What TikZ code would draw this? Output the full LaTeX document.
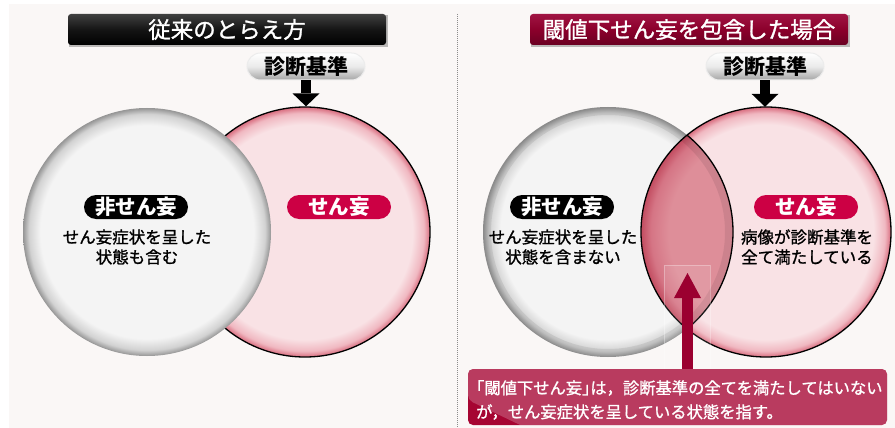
\documentclass[tikz,border=0pt]{standalone}
\usepackage{fontspec}
\newfontfamily\jp{Noto Sans CJK JP}
\newfontfamily\jpm[FakeBold=1.2]{Noto Sans CJK JP}
\usetikzlibrary{arrows.meta,shadings}
\definecolor{bgc}{HTML}{FAF7F6}
\definecolor{grayc}{HTML}{F4F4F4}
\definecolor{graym}{HTML}{D2D2D2}
\definecolor{grayr}{HTML}{959595}
\definecolor{pinkc}{HTML}{F9E2E5}
\definecolor{pinkm}{HTML}{F0B8C1}
\definecolor{pinkr}{HTML}{D86C7E}
\definecolor{lensc}{HTML}{DE8E99}
\definecolor{lensm}{HTML}{D57585}
\definecolor{lensr}{HTML}{C24C60}
\definecolor{crim}{HTML}{CC0044}
\definecolor{darkcrim}{HTML}{9B0030}
\definecolor{boxcrim}{HTML}{A60532}
\definecolor{ttop}{HTML}{A01443}
\definecolor{tbot}{HTML}{6A0022}
\pgfdeclareradialshading{graysph}{\pgfpoint{0bp}{0bp}}{color(0bp)=(grayc); color(21.5bp)=(grayc); color(23.8bp)=(graym); color(25bp)=(grayr); color(50bp)=(grayr)}
\pgfdeclareradialshading{pinksph}{\pgfpoint{0bp}{0bp}}{color(0bp)=(pinkc); color(21.5bp)=(pinkc); color(23.8bp)=(pinkm); color(25bp)=(pinkr); color(50bp)=(pinkr)}
\pgfdeclareradialshading{lenssph}{\pgfpoint{0bp}{0bp}}{color(0bp)=(lensc); color(19.5bp)=(lensc); color(23bp)=(lensm); color(25bp)=(lensr); color(50bp)=(lensr)}
\newcommand{\hwl}[1]{\makebox[0.5em][l]{#1}}
\newcommand{\hwr}[1]{\makebox[0.5em][r]{#1}}
\tikzset{
  circ/.style={circle, inner sep=0pt, shade},
  titlebox/.style={rounded corners=3pt, minimum width=318pt, minimum height=31pt, inner sep=0pt,
    text=white, font=\jpm\fontsize{22.5}{26}\selectfont},
  critbox/.style={rounded corners=13.5pt, minimum width=118pt, minimum height=27pt, inner sep=0pt,
    draw=white!85!gray, line width=1pt, top color=white, bottom color=black!35, middle color=black!8,
    font=\jp\bfseries\fontsize{21}{24}\selectfont, text=black},
  lbl/.style={rounded corners=12pt, minimum width=104pt, minimum height=24pt, inner sep=0pt,
    text=white, font=\jp\bfseries\fontsize{20.5}{22}\selectfont},
  body/.style={align=center, inner sep=0pt, font=\jpm\fontsize{16.5}{20}\selectfont, text=black},
  downarr/.style={line width=10pt, -{Triangle[width=27pt, length=13pt, line width=0pt]}},
  uparr/.style={draw=darkcrim, line width=11pt, -{Triangle[width=27pt, length=25pt, line width=0pt]}},
  divider/.style={draw=black!45, line width=0.8pt, dash pattern=on 1pt off 1pt},
}
\begin{document}
\begin{tikzpicture}[x=1pt, y=-1pt]
\useasboundingbox (0,0) rectangle (895,428);
\fill[white] (0,0) rectangle (895,428);
\fill[bgc] (9,4) rectangle (895,428);
\draw[divider] (457,14) -- (457,428);

% ---------- left panel ----------
\fill[black, opacity=0.25] (69,15.5) rectangle (388,47);
\node[titlebox, top color=black!75, bottom color=black, middle color=black!92] (ltitle) at (227,29.5) {従来のとらえ方};
\node[critbox] (lcrit) at (306,66.5) {診断基準};
\node[circ, shading=pinksph, minimum size=250pt, draw=black, line width=1.3pt] (lp) at (305,232) {};
\node[circ, shading=graysph, minimum size=248pt] (lg) at (147,232) {};
\draw[downarr] (lcrit.south) -- (lcrit.south |- lp.north);
\node[lbl, fill=black] (lnon) at (136,207) {非せん妄};
\node[body] (lnont) at (137,247) {せん妄症状を呈した\\状態も含む};
\node[lbl, fill=crim] (ldel) at (339,207) {せん妄};

% ---------- right panel ----------
\fill[black, opacity=0.25] (531,15.5) rectangle (850,47);
\node[titlebox, top color=ttop, bottom color=tbot, middle color=darkcrim!90!black] (rtitle) at (689,29.5) {閾値下せん妄を包含した場合};
\node[critbox] (rcrit) at (765,66.5) {診断基準};
\node[circ, shading=pinksph, minimum size=250pt] (rp) at (766,232) {};
\node[circ, shading=graysph, minimum size=250pt] (rg) at (608,232) {};
\begin{scope}
  \clip (rg.center) circle[radius=125];
  \shade[shading=lenssph] (rp.center) circle[radius=125];
  \draw[black, opacity=0.08, line width=8pt] (rg.center) circle[radius=121];
\end{scope}
\draw[black, line width=1.3pt] (rp.center) circle[radius=125];
\begin{scope}
  \clip (rp.center) circle[radius=125];
  \draw[black, line width=1.3pt] (rg.center) circle[radius=125];
\end{scope}
\draw[downarr] (rcrit.south) -- (rcrit.south |- rp.north);
\node[lbl, fill=black] (rnon) at (562,207) {非せん妄};
\node[body] (rnont) at (563,247) {せん妄症状を呈した\\状態を含まない};
\node[lbl, fill=crim] (rdel) at (806,207) {せん妄};
\node[body] (rdelt) at (807,247) {病像が診断基準を\\全て満たしている};

\node[draw=white, draw opacity=0.3, fill=white, fill opacity=0.10, minimum width=46pt, minimum height=105pt, inner sep=0pt] (hl) at (687,317.5) {};

\node[fill=boxcrim, rounded corners=5pt, minimum width=419pt, minimum height=56pt, inner sep=0pt,
  path picture={\fill[white, opacity=0.22] (path picture bounding box.north west) -- (path picture bounding box.north east)
     -- ([yshift=16pt]path picture bounding box.east) .. controls (800,392) and (620,402) .. ([yshift=-3pt]path picture bounding box.west) -- cycle;}]
  (callout) at (677.5,397) {};
\node[anchor=west, align=left, inner sep=0pt, text=white, font=\jpm\fontsize{16.3}{24}\selectfont] (callt) at (476,400)
  {\hwr{「}閾値下せん妄\hwl{」}は，診断基準の全てを満たしてはいない\\が，せん妄症状を呈している状態を指す。};
\coordinate (tip) at (687.5,273);
\draw[uparr] (callout.north -| tip) -- (tip);
\end{tikzpicture}
\end{document}
